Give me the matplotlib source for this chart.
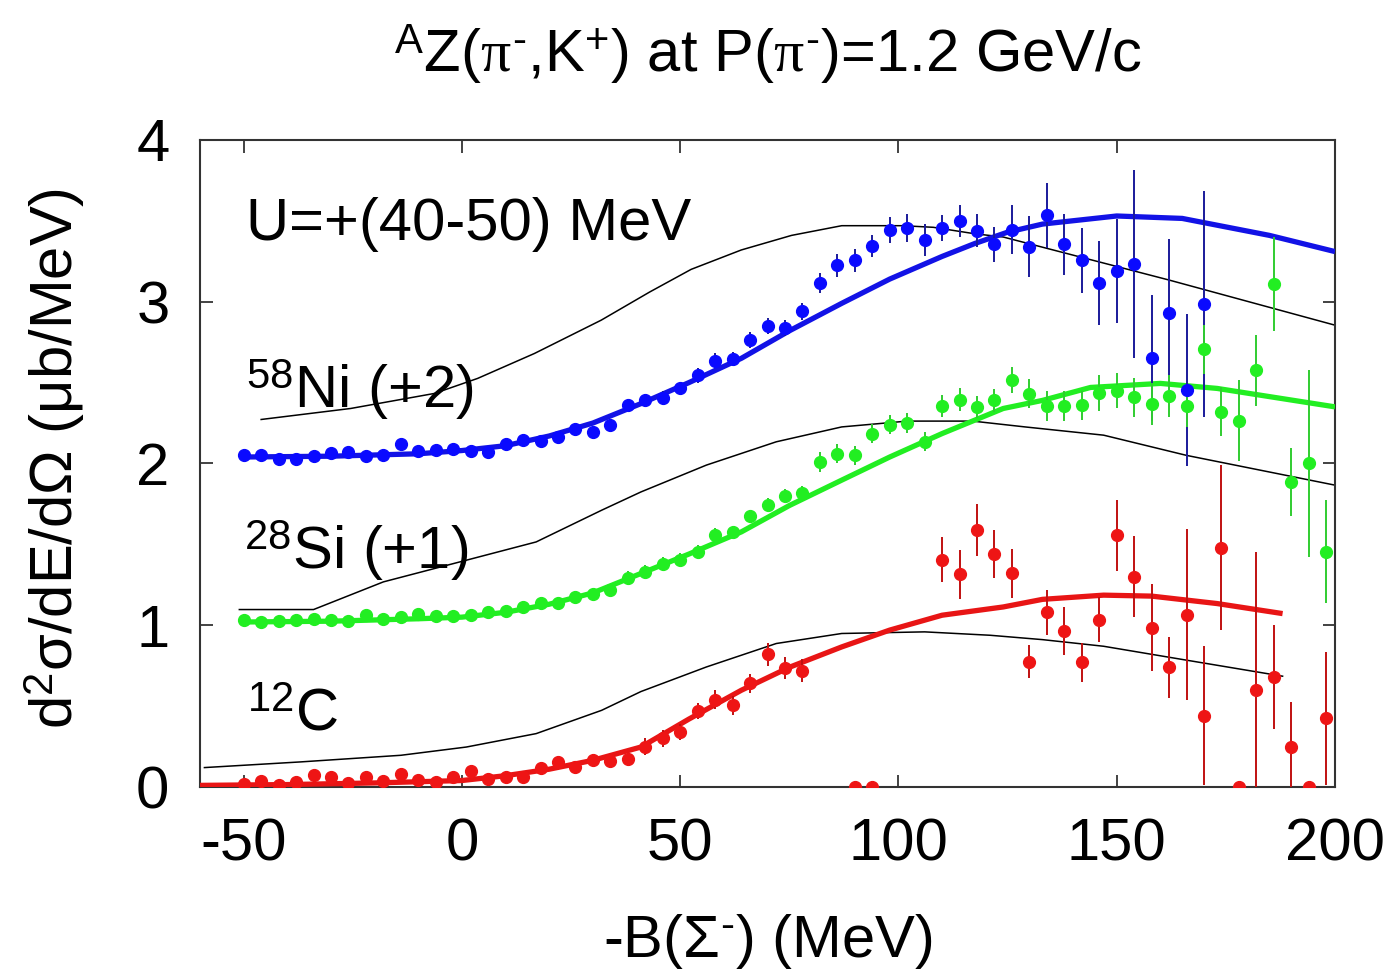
import numpy as np
import matplotlib
matplotlib.use("Agg")
import matplotlib.pyplot as plt

plt.rcParams['font.family'] = ['Liberation Sans', 'DejaVu Sans']
plt.rcParams['mathtext.fontset'] = 'custom'
plt.rcParams['mathtext.rm'] = 'Liberation Sans'
plt.rcParams['mathtext.it'] = 'Liberation Serif'
plt.rcParams['mathtext.bf'] = 'Liberation Sans:bold'
plt.rcParams['axes.unicode_minus'] = False

# --- data ---
ni_x = [-50, -46, -42, -38, -34, -30, -26, -22, -18, -14, -10, -6, -2, 2, 6, 10, 14, 18, 22, 26,
        30, 34, 38, 42, 46, 50, 54, 58, 62, 66, 70, 74, 78, 82, 86, 90, 94, 98, 102, 106,
        110, 114, 118, 122, 126, 130, 134, 138, 142, 146, 150, 154, 158, 162, 166, 170]
ni_y = [2.05, 2.05, 2.03, 2.03, 2.045, 2.065, 2.07, 2.045, 2.05, 2.12, 2.08, 2.085, 2.09, 2.08,
        2.07, 2.12, 2.145, 2.14, 2.165, 2.215, 2.195, 2.24, 2.36, 2.39, 2.405, 2.465, 2.545,
        2.635, 2.645, 2.765, 2.85, 2.835, 2.94, 3.115, 3.225, 3.255, 3.345, 3.445, 3.455, 3.38,
        3.455, 3.5, 3.44, 3.355, 3.445, 3.34, 3.535, 3.355, 3.255, 3.115, 3.19, 3.235, 2.65,
        2.93, 2.455, 2.985]
ni_err = [0.03, 0.03, 0.03, 0.03, 0.03, 0.03, 0.03, 0.03, 0.03, 0.03, 0.03, 0.03, 0.03, 0.03,
          0.03, 0.03, 0.03, 0.03, 0.03, 0.03, 0.03, 0.03, 0.04, 0.04, 0.04, 0.04, 0.045,
          0.045, 0.045, 0.05, 0.05, 0.05, 0.05, 0.06, 0.07, 0.07, 0.07, 0.08, 0.085, 0.1,
          0.08, 0.1, 0.1, 0.11, 0.15, 0.19, 0.2, 0.19, 0.2, 0.26, 0.32, 0.58, 0.39,
          0.46, 0.47, 0.7]

si_x = [-50, -46, -42, -38, -34, -30, -26, -22, -18, -14, -10, -6, -2, 2, 6, 10, 14, 18, 22, 26,
        30, 34, 38, 42, 46, 50, 54, 58, 62, 66, 70, 74, 78, 82, 86, 90, 94, 98, 102, 106,
        110, 114, 118, 122, 126, 130, 134, 138, 142, 146, 150, 154, 158, 162, 166, 170,
        174, 178, 182, 186, 190, 194, 198]
si_y = [1.03, 1.02, 1.025, 1.035, 1.04, 1.03, 1.025, 1.065, 1.04, 1.05, 1.07, 1.06, 1.06, 1.065,
        1.08, 1.09, 1.115, 1.14, 1.135, 1.175, 1.195, 1.22, 1.295, 1.33, 1.38, 1.405, 1.455,
        1.56, 1.575, 1.675, 1.745, 1.8, 1.82, 2.01, 2.06, 2.05, 2.185, 2.24, 2.25, 2.135,
        2.355, 2.395, 2.35, 2.39, 2.515, 2.43, 2.355, 2.355, 2.36, 2.435, 2.45, 2.41, 2.365,
        2.42, 2.355, 2.705, 2.32, 2.265, 2.575, 3.11, 1.885, 2.0, 1.455]
si_err = [0.03, 0.03, 0.03, 0.03, 0.03, 0.03, 0.03, 0.03, 0.03, 0.03, 0.03, 0.03, 0.03, 0.03,
          0.03, 0.03, 0.03, 0.03, 0.03, 0.03, 0.03, 0.03, 0.04, 0.04, 0.04, 0.04, 0.04,
          0.04, 0.04, 0.04, 0.04, 0.04, 0.04, 0.06, 0.06, 0.06, 0.06, 0.06, 0.06, 0.06,
          0.07, 0.07, 0.07, 0.07, 0.08, 0.09, 0.09, 0.09, 0.09, 0.11, 0.11, 0.12, 0.13,
          0.13, 0.13, 0.15, 0.15, 0.25, 0.22, 0.29, 0.21, 0.58, 0.32]

c_x = [-50, -46, -42, -38, -34, -30, -26, -22, -18, -14, -10, -6, -2, 2, 6, 10, 14, 18, 22, 26,
       30, 34, 38, 42, 46, 50, 54, 58, 62, 66, 70, 74, 78, 90, 94,
       110, 114, 118, 122, 126, 130, 134, 138, 142, 146, 150, 154, 158, 162, 166, 170,
       174, 178, 182, 186, 190, 194, 198]
c_y = [0.02, 0.04, 0.01, 0.03, 0.075, 0.06, 0.025, 0.06, 0.04, 0.08, 0.045, 0.03, 0.06, 0.1,
       0.05, 0.06, 0.06, 0.115, 0.155, 0.125, 0.165, 0.16, 0.17, 0.25, 0.30, 0.34, 0.47,
       0.54, 0.505, 0.64, 0.82, 0.735, 0.72, 0.0, 0.0,
       1.405, 1.315, 1.59, 1.44, 1.32, 0.775, 1.08, 0.965, 0.77, 1.035, 1.555, 1.3, 0.985,
       0.74, 1.065, 0.44, 1.48, 0.0, 0.6, 0.68, 0.245, 0.0, 0.425]
c_err = [0.03, 0.03, 0.03, 0.03, 0.03, 0.03, 0.03, 0.03, 0.03, 0.03, 0.03, 0.03, 0.03, 0.03,
         0.03, 0.03, 0.03, 0.03, 0.03, 0.03, 0.03, 0.03, 0.03, 0.05, 0.05, 0.05, 0.05,
         0.06, 0.06, 0.06, 0.07, 0.07, 0.07, 0.0, 0.0,
         0.14, 0.15, 0.16, 0.15, 0.15, 0.1, 0.14, 0.15, 0.12, 0.14, 0.22, 0.25, 0.27,
         0.19, 0.53, 0.43, 0.51, 0.0, 0.85, 0.32, 0.28, 0.0, 0.41]

# calculated spectra, U=+(40-50) MeV (thick coloured)
ni_fit_x = [-50, -30, -10, 0, 10, 20, 30, 41, 52, 64, 75, 87, 98, 110, 117.5, 125, 133, 150, 165, 185, 200]
ni_fit_y = [2.04, 2.045, 2.06, 2.08, 2.11, 2.17, 2.25, 2.37, 2.5, 2.65, 2.82, 2.99, 3.14, 3.28, 3.36, 3.43, 3.48, 3.53, 3.515, 3.41, 3.31]
si_fit_x = [-50, -30, -10, 0, 10, 20, 30, 41, 52, 64, 75, 87, 98, 110, 124, 133, 144, 160, 173, 200]
si_fit_y = [1.02, 1.025, 1.04, 1.05, 1.08, 1.13, 1.2, 1.32, 1.44, 1.577, 1.74, 1.897, 2.04, 2.185, 2.34, 2.39, 2.47, 2.495, 2.464, 2.35]
c_fit_x = [-60, -40, -20, 0, 10, 20, 30, 41, 52, 64, 75, 87, 98, 110, 124, 133, 147, 158, 173, 188]
c_fit_y = [0.01, 0.015, 0.025, 0.04, 0.07, 0.11, 0.165, 0.247, 0.42, 0.598, 0.74, 0.866, 0.97, 1.062, 1.113, 1.16, 1.186, 1.18, 1.134, 1.072]

# thin black curves
ni_ref_x = [-46, -25.5, -6.3, 3.6, 16.6, 31.9, 43, 52.5, 64, 75.5, 87, 101, 108, 117.5, 124, 132, 162, 200]
ni_ref_y = [2.272, 2.34, 2.433, 2.526, 2.68, 2.886, 3.06, 3.2, 3.32, 3.41, 3.47, 3.47, 3.46, 3.42, 3.40, 3.344, 3.134, 2.855]
si_ref_x = [-51, -34, -18, 1, 17, 32, 41, 56, 72, 87, 102, 117, 129, 147, 166, 200]
si_ref_y = [1.097, 1.097, 1.268, 1.402, 1.515, 1.711, 1.824, 1.99, 2.134, 2.226, 2.262, 2.262, 2.226, 2.175, 2.05, 1.866]
c_ref_x = [-59, -37, -14, 1, 17, 32, 41, 56, 72, 87, 106, 121, 133, 147, 166, 188]
c_ref_y = [0.12, 0.155, 0.196, 0.247, 0.33, 0.474, 0.59, 0.742, 0.887, 0.949, 0.959, 0.938, 0.911, 0.87, 0.784, 0.685]

fig = plt.figure(figsize=(13.97, 9.74), dpi=100)
ax = fig.add_axes([0.1432, 0.192, 0.8124, 0.6643])

FS = 43

# black reference curves
for rx, ry in [(ni_ref_x, ni_ref_y), (si_ref_x, si_ref_y), (c_ref_x, c_ref_y)]:
    ax.plot(rx, ry, color='black', lw=1.1, zorder=2)

# thick fitted curves
ax.plot(ni_fit_x, ni_fit_y, color='#1212e6', lw=3.8, zorder=3, solid_capstyle='butt')
ax.plot(si_fit_x, si_fit_y, color='#22ee22', lw=3.8, zorder=3, solid_capstyle='butt')
ax.plot(c_fit_x, c_fit_y, color='#e81515', lw=3.8, zorder=3, solid_capstyle='butt')

# data points
ax.errorbar(ni_x, ni_y, yerr=ni_err, fmt='o', color='#0a0aff', ecolor='#1a1a9a',
            ms=8.5, elinewidth=1.4, capsize=0, zorder=4)
ax.errorbar(si_x, si_y, yerr=si_err, fmt='o', color='#22ee22', ecolor='#30cc30',
            ms=8.5, elinewidth=1.4, capsize=0, zorder=4)
ax.errorbar(c_x, c_y, yerr=c_err, fmt='o', color='#ee1515', ecolor='#c01010',
            ms=8.5, elinewidth=1.4, capsize=0, zorder=4)

ax.set_xlim(-60, 200)
ax.set_ylim(0, 4)
ax.set_xticks([-50, 0, 50, 100, 150, 200])
ax.set_yticks([0, 1, 2, 3, 4])
ax.tick_params(direction='in', top=True, right=True, length=9, width=1.2,
               labelsize=FS, pad=22, color='#222222')
for s in ax.spines.values():
    s.set_color('#333333')
    s.set_linewidth(1.5)

# annotations
ax.text(-49.5, 3.38, 'U=+(40-50) MeV', fontsize=FS, va='baseline', ha='left')
ax.text(-49.5, 2.34, r'$^{58}$Ni (+2)', fontsize=FS, va='baseline', ha='left')
ax.text(-50, 1.35, r'$^{28}$Si (+1)', fontsize=FS, va='baseline', ha='left')
ax.text(-49.2, 0.35, r'$^{12}$C', fontsize=FS, va='baseline', ha='left')

fig.text(767.5 / 1397, 1 - 73 / 974,
         r'$^{\mathrm{A}}$Z($\pi^{\text{-}}$,K$^{+}$) at P($\pi^{\text{-}}$)=1.2 GeV/c',
         fontsize=FS, ha='center', va='baseline')
fig.text(767.5 / 1397, 1 - 957 / 974, r'-B(Σ$^{\text{-}}$) (MeV)',
         fontsize=FS, ha='center', va='baseline')
fig.text(55 / 1397, 1 - 458 / 974, r'd$^{2}$σ/dE/dΩ (μb/MeV)',
         fontsize=FS, ha='center', va='center', rotation=90)

fig.savefig('out.png', dpi=100)
